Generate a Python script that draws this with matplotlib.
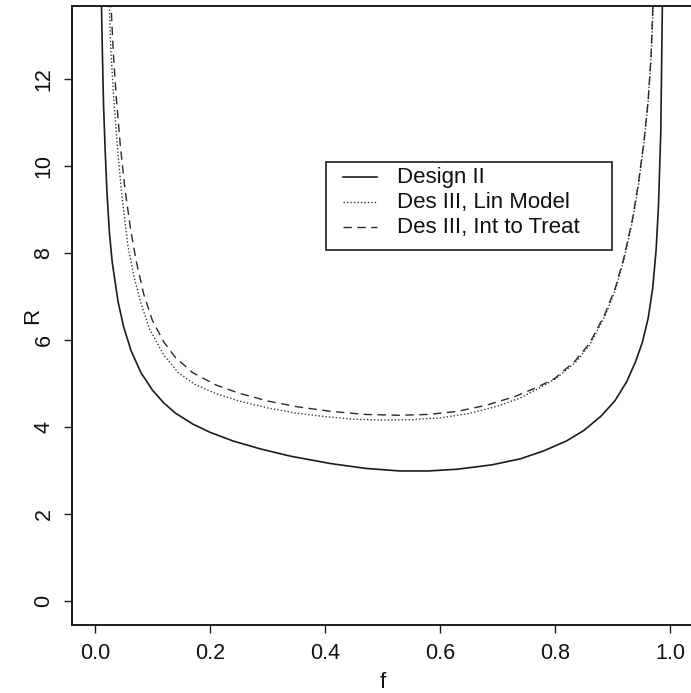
import matplotlib.pyplot as plt
from matplotlib.patches import Rectangle

plt.rcParams["font.family"] = ["Liberation Sans", "DejaVu Sans"]

# Design II (solid)
f_design2 = [0.011, 0.013, 0.015, 0.018, 0.021, 0.025, 0.03, 0.04, 0.05, 0.063, 0.08,
             0.1, 0.12, 0.14, 0.17, 0.2, 0.24, 0.287, 0.34, 0.41, 0.47, 0.53,
             0.58, 0.63, 0.69, 0.74, 0.78, 0.82, 0.85, 0.88, 0.904, 0.925, 0.94,
             0.952, 0.962, 0.97, 0.976, 0.98, 0.984, 0.987]
r_design2 = [14.0, 12.6, 11.4, 10.3, 9.4, 8.5, 7.8, 6.9, 6.3, 5.75, 5.25,
             4.85, 4.55, 4.32, 4.07, 3.88, 3.68, 3.5, 3.33, 3.16, 3.05, 2.99,
             2.99, 3.03, 3.13, 3.27, 3.45, 3.68, 3.92, 4.25, 4.6, 5.05, 5.5,
             5.95, 6.5, 7.2, 8.1, 9.1, 10.8, 14.0]

# Design III, linear model (dotted)
f_lin = [0.024, 0.028, 0.033, 0.04, 0.047, 0.057, 0.068, 0.08, 0.095, 0.12,
         0.145, 0.174, 0.21, 0.25, 0.3, 0.35, 0.4, 0.45, 0.5, 0.55, 0.6, 0.65,
         0.7, 0.74, 0.77, 0.8, 0.835, 0.86, 0.887, 0.905, 0.92, 0.935, 0.945,
         0.955, 0.962, 0.967, 0.972]
r_lin = [14.0, 12.6, 11.5, 10.3, 9.3, 8.2, 7.45, 6.85, 6.25, 5.65,
         5.25, 4.98, 4.77, 4.6, 4.44, 4.32, 4.24, 4.18, 4.16, 4.17, 4.21, 4.31,
         4.48, 4.67, 4.88, 5.1, 5.48, 5.88, 6.55, 7.15, 7.85, 8.75, 9.55,
         10.55, 11.5, 12.5, 14.0]

# Design III, intent to treat (dashed)
f_itt = [0.027, 0.032, 0.037, 0.044, 0.052, 0.062, 0.072, 0.085, 0.1, 0.12,
         0.14, 0.17, 0.21, 0.25, 0.3, 0.35, 0.41, 0.47, 0.53, 0.58, 0.63,
         0.68, 0.73, 0.77, 0.8, 0.835, 0.86, 0.887, 0.905, 0.92, 0.935, 0.945,
         0.955, 0.962, 0.967, 0.971]
r_itt = [14.0, 12.6, 11.6, 10.5, 9.5, 8.55, 7.8, 7.05, 6.45, 5.95,
         5.6, 5.25, 4.97, 4.78, 4.6, 4.47, 4.36, 4.29, 4.27, 4.29, 4.36,
         4.5, 4.7, 4.92, 5.12, 5.52, 5.92, 6.6, 7.2, 7.9, 8.8, 9.6,
         10.6, 11.5, 12.5, 14.0]

legend_labels = ["Design II", "Des III, Lin Model", "Des III, Int to Treat"]
x_ticks = [0.0, 0.2, 0.4, 0.6, 0.8, 1.0]
y_ticks = [0, 2, 4, 6, 8, 10, 12]

ink = "#1c1c1c"
styles = [
    dict(color=ink, lw=1.2, ls="-"),
    dict(color="#3a3a3a", lw=1.0, ls=(0, (1, 1.5))),
    dict(color="#2a2a2a", lw=1.0, ls=(0, (6, 4))),
]

fig = plt.figure(figsize=(6.91, 6.93), dpi=100)
ax = fig.add_axes([0.1049, 0.0981, 0.898, 0.8932])

for (fx, ry), st in zip([(f_design2, r_design2), (f_lin, r_lin), (f_itt, r_itt)], styles):
    ax.plot(fx, ry, **st)

ax.set_xlim(-0.039, 1.040)
ax.set_ylim(-0.552, 13.68)
ax.set_xticks(x_ticks)
ax.set_xticklabels([f"{v:.1f}" for v in x_ticks])
ax.set_yticks(y_ticks)
ax.set_yticklabels([str(v) for v in y_ticks], rotation=90, va="center")
ax.tick_params(direction="out", length=6, width=1.0, color=ink, labelsize=15.5,
               labelcolor="#111111", pad=7)

for sp in ax.spines.values():
    sp.set_color(ink)
    sp.set_linewidth(1.4)

ax.text(-0.064, 0.5, "R", transform=ax.transAxes, rotation=90, fontsize=16,
        ha="center", va="center", color="#111111")
ax.text(0.5, -0.076, "f", transform=ax.transAxes, fontsize=16,
        ha="center", va="top", color="#111111")

# legend box, drawn by hand like the old S plot
ax.add_patch(Rectangle((0.4085, 0.6058), 0.461, 0.1422, transform=ax.transAxes,
                       fill=False, edgecolor=ink, lw=1.2))
text_y = [0.7140, 0.6737, 0.6333]
sample_y = [y + 0.0095 for y in text_y]
for label, st, sy, ty in zip(legend_labels, styles, sample_y, text_y):
    ax.plot([0.436, 0.491], [sy, sy], transform=ax.transAxes, **st)
    ax.text(0.523, ty, label, transform=ax.transAxes, fontsize=16,
            va="baseline", ha="left", color="#111111")

fig.savefig("out.png", dpi=100)
